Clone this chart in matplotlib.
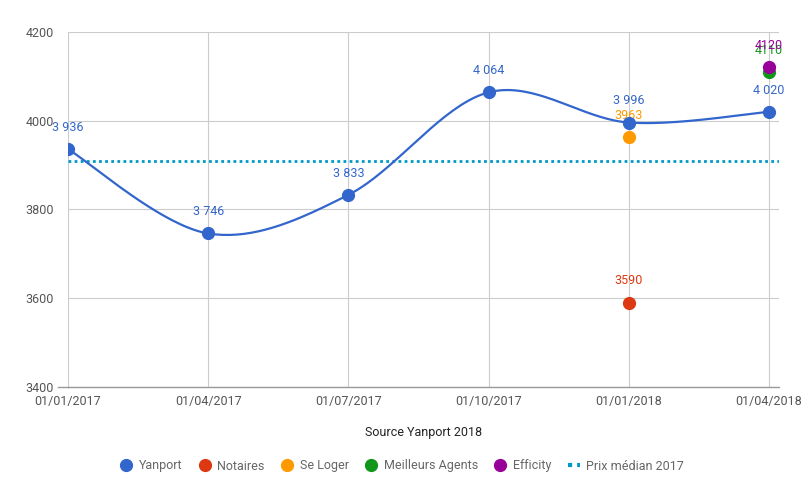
import numpy as np
import matplotlib
matplotlib.use("Agg")
import matplotlib.pyplot as plt
from matplotlib.lines import Line2D

plt.rcParams['font.family'] = ['Roboto', 'DejaVu Sans']

dates = ["01/01/2017", "01/04/2017", "01/07/2017", "01/10/2017", "01/01/2018", "01/04/2018"]
yanport = [3936, 3746, 3833, 4064, 3996, 4020]
notaires_idx, notaires_val = [4], [3590]
seloger_idx, seloger_val = [4], [3963]
meilleurs_idx, meilleurs_val = [5], [4110]
efficity_idx, efficity_val = [5], [4120]
median_2017 = 3910

C_YAN = "#3366CC"
C_NOT = "#DC3912"
C_SEL = "#FF9900"
C_MA = "#109618"
C_EFF = "#990099"
C_MED = "#0099C6"

W, H = 804, 497
fig = plt.figure(figsize=(W/100, H/100), dpi=100)
ax = fig.add_axes([68/W, (H-387)/H, (779-68)/W, (387-32)/H])

x = np.arange(len(dates), dtype=float)
y = np.array(yanport, dtype=float)

def catmull(xp, yp, n=40):
    px = np.concatenate([[xp[0]], xp, [xp[-1]]])
    py = np.concatenate([[yp[0]], yp, [yp[-1]]])
    outx, outy = [], []
    for i in range(1, len(px)-2):
        t = np.linspace(0, 1, n)
        x0, x1, x2, x3 = px[i-1], px[i], px[i+1], px[i+2]
        y0, y1, y2, y3 = py[i-1], py[i], py[i+1], py[i+2]
        mx1, my1 = (x2-x0)/2, (y2-y0)/2
        mx2, my2 = (x3-x1)/2, (y3-y1)/2
        h00 = 2*t**3-3*t**2+1
        h10 = t**3-2*t**2+t
        h01 = -2*t**3+3*t**2
        h11 = t**3-t**2
        outx.append(h00*x1+h10*mx1+h01*x2+h11*mx2)
        outy.append(h00*y1+h10*my1+h01*y2+h11*my2)
    return np.concatenate(outx), np.concatenate(outy)

sx, sy = catmull(x, y)

ax.set_xlim(0, 5 + 10/140.2)
ax.set_ylim(3400, 4200)

ax.axhline(median_2017, color=C_MED, lw=2, ls=(0, (1, 1.2)), zorder=2)
ax.plot(sx, sy, color=C_YAN, lw=1.6, zorder=3, solid_capstyle='round')
ax.plot(x, y, 'o', color=C_YAN, ms=8.5, zorder=4)
ax.plot(notaires_idx, notaires_val, 'o', color=C_NOT, ms=8.5, zorder=4)
ax.plot(seloger_idx, seloger_val, 'o', color=C_SEL, ms=8.5, zorder=4)
ax.plot(meilleurs_idx, meilleurs_val, 'o', color=C_MA, ms=8.5, zorder=4)
ax.plot(efficity_idx, efficity_val, 'o', color=C_EFF, ms=8.5, zorder=5)

def fmt(v):
    return f"{v:,}".replace(",", " ")

off = 11
for xi, yi in zip(x, yanport):
    ax.annotate(fmt(yi), (xi, yi), xytext=(0, off), textcoords='offset points',
                ha='center', va='bottom', color=C_YAN, fontsize=9)
for idx, vals, c in [(notaires_idx, notaires_val, C_NOT), (seloger_idx, seloger_val, C_SEL),
                     (meilleurs_idx, meilleurs_val, C_MA), (efficity_idx, efficity_val, C_EFF)]:
    for xi, yi in zip(idx, vals):
        ax.annotate(str(yi), (xi, yi), xytext=(0, off), textcoords='offset points',
                    ha='center', va='bottom', color=c, fontsize=9)

ax.set_xticks(x)
ax.set_xticklabels(dates)
ax.set_yticks([3400, 3600, 3800, 4000, 4200])
ax.grid(True, color="#CCCCCC", lw=0.8)
ax.set_axisbelow(True)
for s in ['top', 'right', 'left']:
    ax.spines[s].set_visible(False)
ax.spines['bottom'].set_color("#999999")
ax.spines['bottom'].set_linewidth(1)
ax.tick_params(axis='x', length=0, pad=6, labelsize=9, colors="#555555")
ax.tick_params(axis='y', length=0, pad=10, labelsize=9, colors="#555555")

# short baseline stub left of the axis at 3400
fig.add_artist(Line2D([58/W, 68/W], [(H-387)/H, (H-387)/H], color="#999999", lw=1))

ax.set_xlabel("Source Yanport 2018", fontsize=9, color="#222222", labelpad=13)

handles = [
    Line2D([], [], marker='o', ls='none', color=C_YAN, ms=8.5, label='Yanport'),
    Line2D([], [], marker='o', ls='none', color=C_NOT, ms=8.5, label='Notaires'),
    Line2D([], [], marker='o', ls='none', color=C_SEL, ms=8.5, label='Se Loger'),
    Line2D([], [], marker='o', ls='none', color=C_MA, ms=8.5, label='Meilleurs Agents'),
    Line2D([], [], marker='o', ls='none', color=C_EFF, ms=8.5, label='Efficity'),
    Line2D([], [], color=C_MED, lw=3, ls=(0, (1, 1.2)), label='Prix médian 2017'),
]
leg = fig.legend(handles=handles, loc='center', bbox_to_anchor=(0.5, 1 - 466/H), ncol=6,
                 frameon=False, fontsize=9, handlelength=1.0, handletextpad=0.5,
                 columnspacing=1.3)
for t in leg.get_texts():
    t.set_color("#666666")

fig.savefig("out.png", dpi=100)
